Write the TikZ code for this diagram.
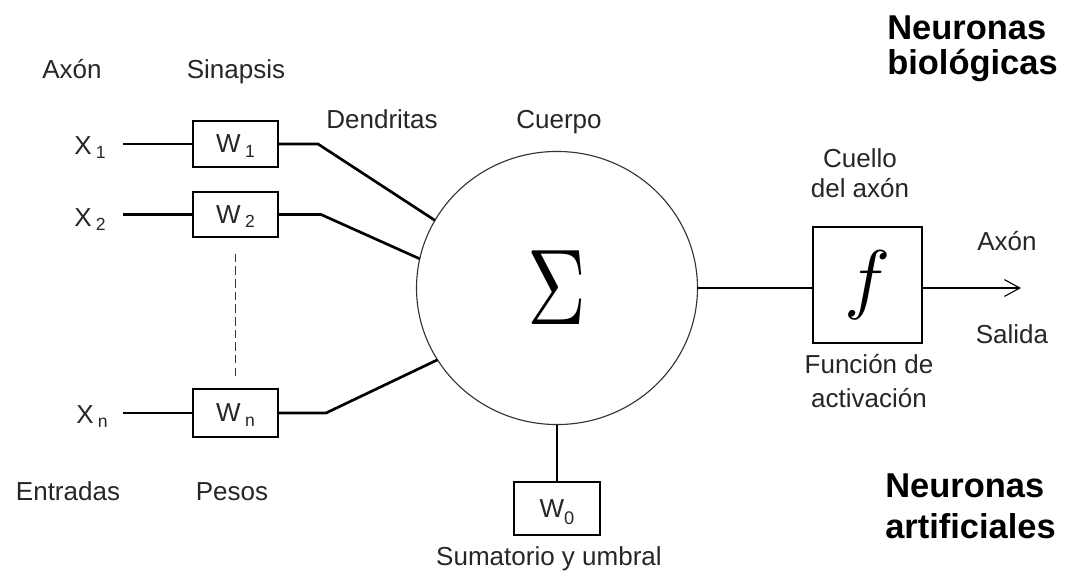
\documentclass[tikz,border=0pt]{standalone}
\usepackage[no-math]{fontspec}
\setmainfont{Liberation Sans}
\usepackage{graphicx}
\usetikzlibrary{shapes.geometric,arrows.meta}
\newcommand\mysub[1]{\,\raisebox{-0.3ex}[0pt][0pt]{\fontsize{12.5}{12.5}\selectfont #1}}
\newcommand\mysubz[1]{\raisebox{-0.5ex}[0pt][0pt]{\fontsize{13}{13}\selectfont #1}}
\begin{document}
\begin{tikzpicture}[x=0.025cm,y=-0.025cm,
  lbl/.style={font=\fontsize{18.5}{22}\selectfont, text=black!85, anchor=base, inner sep=0pt},
  title/.style={text=black, anchor=base west, align=left, inner sep=0pt},
  wbox/.style={draw, line width=1.6pt, minimum width=60.2pt, minimum height=32.3pt, inner sep=0pt, font=\fontsize{18.5}{22}\selectfont, text=black!85},
  wire/.style={line width=1.9pt},
  dots/.style={line width=1.4pt, draw=black!80, dash pattern=on 6pt off 3pt},
]
\useasboundingbox (0,0) rectangle (1070,573);

% body
\node[draw=black!80, line width=0.8pt, ellipse, minimum width=199.8pt, minimum height=194.2pt, inner sep=0pt, outer sep=0pt] (sum) at (557,288) {\resizebox{41.8pt}{52.4pt}{$\Sigma$}};

% weights
\node[wbox] (w1) at (235.5,144) {W\mysub{1}};
\node[wbox] (w2) at (235.5,214.5) {W\mysub{2}};
\node[wbox, minimum height=34pt] (wn) at (235.5,413) {W\mysub{n}};
\node[wbox, minimum width=61pt, minimum height=37.6pt] (w0) at (557,508.5) {W\mysubz{0}};
\node[draw, line width=1.6pt, minimum width=77.2pt, minimum height=82.2pt, inner sep=0pt] (f) at (867.5,285) {\resizebox*{!}{48.9pt}{$f$}};

% wires
\coordinate (i1) at (123,144); \coordinate (d1) at (318,144);
\coordinate (i2) at (123,214.5); \coordinate (d2) at (321,214.5);
\coordinate (i3) at (123,413); \coordinate (d3) at (326,413);
\draw[wire] (i1) -- (w1.west);
\draw[wire] (w1.east) -- (d1) -- (sum.151.6);
\draw[wire] (i2) -- (w2.west);
\draw[wire] (w2.east) -- (d2) -- (sum.168.3);
\draw[wire] (i3) -- (wn.west);
\draw[wire] (wn.east) -- (d3) -- (sum.211.7);
\draw[dots, shorten <=11pt, shorten >=8.5pt] (w2.south) -- (wn.north);
\draw[wire] (sum.south) -- (w0.north);
\draw[wire] (sum.east) -- (sum.east -| f.west);
\coordinate (out) at (1021,288);
\draw[wire, -{Straight Barb[length=11pt,width=12pt,line width=0.8pt]}] (f.east |- out) -- (out);

% labels
\node[lbl] (axon1) at (72,78) {Axón};
\node[lbl] (sinapsis) at (236,78) {Sinapsis};
\node[lbl] (dendritas) at (382,128) {Dendritas};
\node[lbl] (cuerpo) at (559,128) {Cuerpo};
\node[lbl] (x1) at (90,154) {X\mysub{1}};
\node[lbl] (x2) at (90,226) {X\mysub{2}};
\node[lbl] (xn) at (92,423) {X\mysub{n}};
\node[lbl] (entradas) at (68,500) {Entradas};
\node[lbl] (pesos) at (232,500) {Pesos};
\node[lbl] (sumat) at (549,565) {Sumatorio y umbral};
\node[lbl, align=center, font=\fontsize{18.5}{21.3}\selectfont] (cuello) at (860,197) {Cuello\\del axón};
\node[lbl] (axon2) at (1007,250) {Axón};
\node[lbl] (salida) at (1012,343) {Salida};
\node[lbl, align=center, font=\fontsize{18.5}{24}\selectfont] (funcion) at (869,407) {Función de\\activación};
\node[title, font=\fontsize{24.5}{24.8}\selectfont\bfseries] (nb) at (887,74) {Neuronas\\biológicas};
\node[title, font=\fontsize{24.5}{29}\selectfont\bfseries] (na) at (885,538) {Neuronas\\artificiales};
\end{tikzpicture}
\end{document}
